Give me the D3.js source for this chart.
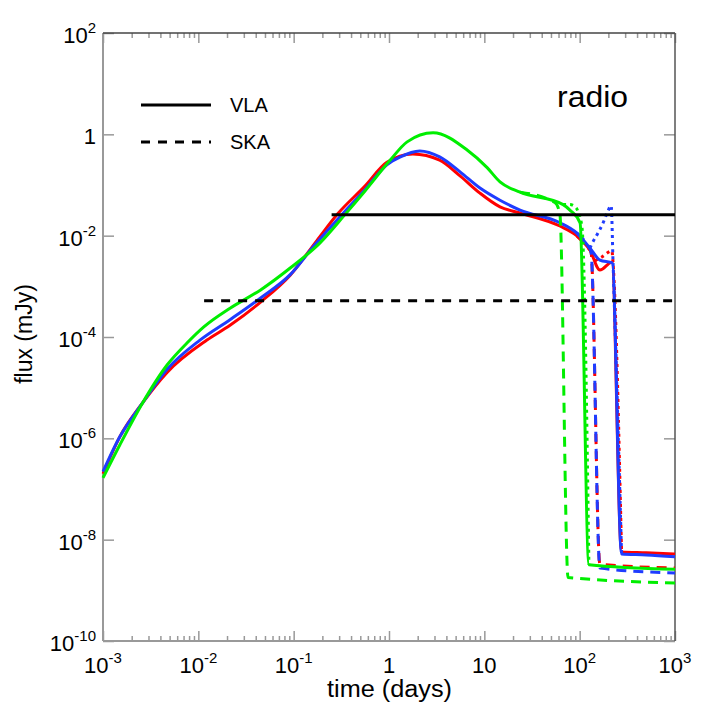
<!DOCTYPE html>
<html><head><meta charset="utf-8">
<script src="https://cdn.jsdelivr.net/npm/d3@7"></script>
<style>body{margin:0;background:#fff} text{font-family:"Liberation Sans",Arial,Helvetica,sans-serif;fill:#000}</style>
</head><body><svg id="c" width="706" height="706"></svg>
<script>
// ---- data (time in days, flux in mJy) ----
const xTicks = [1e-3, 1e-2, 1e-1, 1, 10, 100, 1000];
const xTickBase = ["10", "10", "10", "1", "10", "10", "10"];
const xTickExp = ["-3", "-2", "-1", "", "", "2", "3"];
const yTicks = [1e-10, 1e-8, 1e-6, 1e-4, 1e-2, 1, 100];
const yTickBase = ["10", "10", "10", "10", "10", "1", "10"];
const yTickExp = ["-10", "-8", "-6", "-4", "-2", "", "2"];

const blueT = [1e-3, 1.5e-3, 2.6e-3, 4.7e-3, 0.0104, 0.0215, 0.045, 0.092, 0.167, 0.32, 0.56, 0.95, 1.3, 2.1, 3.4, 5.6, 9.0, 14.6, 23.7, 62, 93, 128, 163, 220, 275, 500, 1000];
const blueF = [2.2e-7, 1.07e-6, 5.0e-6, 2.3e-5, 8.7e-5, 2.2e-4, 5.9e-4, 1.7e-3, 6.6e-3, 0.026, 0.081, 0.25, 0.355, 0.47, 0.36, 0.18, 0.087, 0.050, 0.032, 0.018, 0.0113, 5.7e-3, 3.3e-3, 2.9e-3, 5.2e-9, 5.0e-9, 4.6e-9];
const redT = [1e-3, 1.5e-3, 2.6e-3, 4.7e-3, 0.0123, 0.0215, 0.045, 0.092, 0.176, 0.29, 0.56, 0.95, 1.78, 3.4, 5.6, 9.0, 14.6, 23.7, 62, 93, 128, 163, 218, 275, 500, 1000];
const redF = [2.0e-7, 1.07e-6, 5.0e-6, 2.0e-5, 8.7e-5, 1.7e-4, 4.9e-4, 1.66e-3, 8.1e-3, 0.027, 0.095, 0.28, 0.41, 0.31, 0.15, 0.069, 0.037, 0.028, 0.0155, 0.010, 5.2e-3, 2.1e-3, 3.0e-3, 5.7e-9, 5.5e-9, 5.2e-9];
const greenT = [1e-3, 1.5e-3, 2.6e-3, 4.7e-3, 7.6e-3, 0.0115, 0.0215, 0.045, 0.092, 0.189, 0.345, 0.56, 1.03, 1.55, 2.9, 6.6, 10.7, 14.6, 23.7, 67, 79, 101, 125, 1000];
const greenF = [1.66e-7, 7.4e-7, 5.0e-6, 2.8e-5, 7.6e-5, 1.6e-4, 3.7e-4, 8.5e-4, 2.3e-3, 7.2e-3, 0.026, 0.076, 0.31, 0.71, 1.07, 0.49, 0.22, 0.115, 0.072, 0.041, 0.032, 0.0178, 3.2e-9, 2.6e-9];

// dashed branches (diverge from the solid curves)
const greenDashT = [23.7, 55, 62, 75.5, 1000];
const greenDashF = [0.072, 0.045, 0.027, 1.8e-9, 1.4e-9];
const blueDashT = [93, 122, 131.5, 163, 1000];
const blueDashF = [0.0113, 6.3e-3, 4.8e-3, 2.75e-9, 2.2e-9];
const redDashT = [93, 122, 131.5, 163, 1000];
const redDashF = [0.010, 5.8e-3, 4.8e-3, 3.3e-9, 2.75e-9];
// dotted branches
const blueDotT = [128, 138, 155, 176, 194, 214, 224, 275];
const blueDotF = [5.7e-3, 7.6e-3, 0.0112, 0.0178, 0.028, 0.039, 2.9e-3, 5.2e-9];
const redDotT = [145, 171, 218, 224, 275];
const redDotF = [3.2e-3, 3.8e-3, 5.0e-3, 2.9e-3, 5.7e-9];
const greenDotT = [67, 79, 92, 98, 106, 125];
const greenDotF = [0.041, 0.041, 0.035, 0.027, 0.014, 3.2e-9];

// detector limits
const limitNames = ["VLA", "SKA"];
const limitFlux = [0.026, 5.2e-4];
const limitStart = [0.25, 0.0115];

// ---- drawing ----
const svg = d3.select("#c");
const L = 103, R = 675, T = 33, B = 641;
const x = d3.scaleLog().domain([1e-3, 1e3]).range([L, R]);
const y = d3.scaleLog().domain([1e-10, 1e2]).range([B, T]);

svg.append("rect").attr("width", 706).attr("height", 706).attr("fill", "#fff");

const minors = [];
for (let e = -3; e < 3; e++) for (let k = 2; k <= 9; k++) minors.push(k * Math.pow(10, e));

const gAx = svg.append("g");
gAx.append("g").attr("transform", `translate(0,${B})`)
  .call(d3.axisBottom(x).tickValues(minors).tickSize(-5).tickFormat("")).call(g => g.select(".domain").remove());
gAx.append("g").attr("transform", `translate(0,${B})`)
  .call(d3.axisBottom(x).tickValues(xTicks).tickSize(-10).tickFormat("")).call(g => g.select(".domain").remove());
gAx.append("g").attr("transform", `translate(0,${T})`)
  .call(d3.axisTop(x).tickValues(minors).tickSize(-5).tickFormat("")).call(g => g.select(".domain").remove());
gAx.append("g").attr("transform", `translate(0,${T})`)
  .call(d3.axisTop(x).tickValues(xTicks).tickSize(-10).tickFormat("")).call(g => g.select(".domain").remove());
gAx.append("g").attr("transform", `translate(${L},0)`)
  .call(d3.axisLeft(y).tickValues(yTicks).tickSize(-11).tickFormat("")).call(g => g.select(".domain").remove());
gAx.append("g").attr("transform", `translate(${R},0)`)
  .call(d3.axisRight(y).tickValues(yTicks).tickSize(-11).tickFormat("")).call(g => g.select(".domain").remove());
gAx.selectAll(".tick line").attr("stroke", "#999").attr("stroke-width", 1.5);

svg.append("line").attr("x1", L).attr("x2", L).attr("y1", T).attr("y2", B).attr("stroke", "#999").attr("stroke-width", 2);
svg.append("line").attr("x1", L).attr("x2", R).attr("y1", B).attr("y2", B).attr("stroke", "#999").attr("stroke-width", 2);
svg.append("line").attr("x1", L).attr("x2", R).attr("y1", T).attr("y2", T).attr("stroke", "#444").attr("stroke-width", 1.5);
svg.append("line").attr("x1", R).attr("x2", R).attr("y1", T).attr("y2", B).attr("stroke", "#555").attr("stroke-width", 1.5);

xTicks.forEach((v, i) => {
  const t = svg.append("text").attr("x", x(v)).attr("y", 673).attr("text-anchor", "middle").attr("font-size", 22);
  t.append("tspan").text(xTickBase[i]);
  if (xTickExp[i]) t.append("tspan").attr("dy", -10).attr("font-size", 15).text(xTickExp[i]);
});
yTicks.forEach((v, i) => {
  const t = svg.append("text").attr("x", 96).attr("y", y(v) + 10).attr("text-anchor", "end").attr("font-size", 22);
  t.append("tspan").text(yTickBase[i]);
  if (yTickExp[i]) t.append("tspan").attr("dy", -10).attr("font-size", 15).text(yTickExp[i]);
});

svg.append("text").attr("x", 327).attr("y", 697).attr("font-size", 23)
  .attr("textLength", 125).attr("lengthAdjust", "spacingAndGlyphs").text("time (days)");
svg.append("text").attr("transform", "translate(32,334) rotate(-90)").attr("text-anchor", "middle").attr("font-size", 23).text("flux (mJy)");
svg.append("text").attr("x", 557).attr("y", 107).attr("font-size", 30)
  .attr("textLength", 71).attr("lengthAdjust", "spacingAndGlyphs").text("radio");

const line = d3.line().x(d => x(d[0])).y(d => y(d[1])).curve(d3.curveMonotoneX);
const zip = (a, b) => a.map((v, i) => [v, b[i]]);
const plot = (T_, F_, color, dash) => svg.append("path").datum(zip(T_, F_))
  .attr("d", line).attr("fill", "none").attr("stroke", color).attr("stroke-width", 3)
  .attr("stroke-dasharray", dash || null).attr("stroke-linejoin", "round");

const RED = "#ff0000", BLUE = "#1f3cff", GREEN = "#00ee00";
plot(redT, redF, RED);
plot(redDashT, redDashF, RED, "10,7");
plot(redDotT, redDotF, RED, "3,4");
plot(blueT, blueF, BLUE);
plot(blueDashT, blueDashF, BLUE, "10,7");
plot(blueDotT, blueDotF, BLUE, "3,4");
plot(greenT, greenF, GREEN);
plot(greenDashT, greenDashF, GREEN, "10,7");
plot(greenDotT, greenDotF, GREEN, "3,4");

limitNames.forEach((n, i) => {
  svg.append("line").attr("x1", x(limitStart[i])).attr("x2", R).attr("y1", y(limitFlux[i])).attr("y2", y(limitFlux[i]))
    .attr("stroke", "#000").attr("stroke-width", 3).attr("stroke-dasharray", i === 1 ? "9,8" : null);
});

const legY = [105, 142];
limitNames.forEach((n, i) => {
  svg.append("line").attr("x1", 141).attr("x2", 211).attr("y1", legY[i]).attr("y2", legY[i])
    .attr("stroke", "#000").attr("stroke-width", 3).attr("stroke-dasharray", i === 1 ? "9,8" : null);
  svg.append("text").attr("x", 230).attr("y", legY[i] + 7).attr("font-size", 20).text(n);
});
</script></body></html>
